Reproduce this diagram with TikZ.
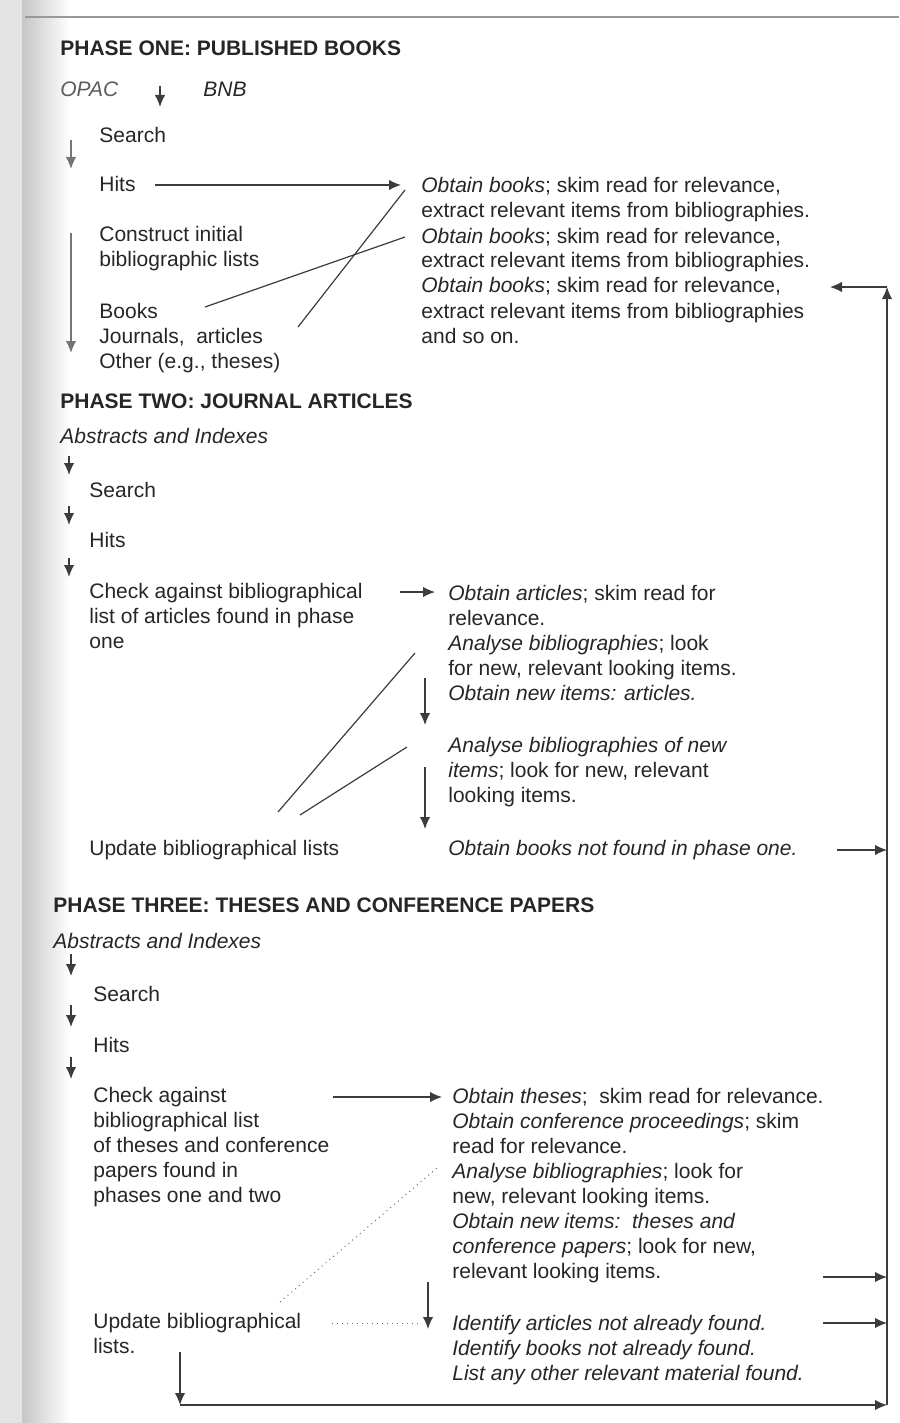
\documentclass[tikz,border=0pt]{standalone}
\usepackage{fontspec}
\setmainfont{Liberation Sans}
\usetikzlibrary{arrows.meta}
\definecolor{ink}{HTML}{262626}
\definecolor{rulec}{HTML}{3C3C3C}
\tikzset{
  txt/.style={anchor=base west, inner sep=0pt, text=ink, font=\fontsize{10.5}{12.5}\selectfont},
  hd/.style={txt, font=\fontsize{10.5}{12.5}\selectfont\bfseries},
  itx/.style={txt, font=\fontsize{10.5}{12.5}\selectfont\itshape},
  conn/.style={draw=rulec, line width=0.6pt},
  arr/.style={conn, -{Latex[length=6pt,width=5.2pt]}},
  dotl/.style={draw=rulec!75, line width=0.5pt, dotted},
}
\newcommand{\mlines}[1]{\vtop{\baselineskip=12.5pt\lineskiplimit=-20pt\lineskip=0pt #1}}
\begin{document}
\begin{tikzpicture}[x=0.5pt,y=-0.5pt]
\useasboundingbox (0,0) rectangle (899,1423);
% page scan edge and header rule
\fill[gray!22] (0,0) rectangle (22,1423);
\shade[left color=gray!45, right color=white] (22,0) rectangle (70,1423);
\draw[gray!80, line width=0.9pt] (25,17) -- (899,17);

% ---------------- PHASE ONE ----------------
\node[hd] (h1) at (60,56) {PHASE ONE: PUBLISHED BOOKS};
\node[itx, text=ink!75] (opac) at (60,97) {OPAC};
\node[itx] (bnb) at (203,97) {BNB};
\node[txt] (s1) at (99,143) {Search};
\node[txt] (hits1) at (99,192) {Hits};
\node[txt] (con1) at (99,242) {\mlines{\hbox{Construct initial}\hbox{bibliographic lists}}};
\node[txt] (bk1) at (99,318) {\mlines{\hbox{Books}\hbox{Journals,\ \ articles}\hbox{Other (e.g., theses)}}};
\node[txt] (ob1) at (421,193) {\mlines{%
  \hbox{\textit{Obtain books}; skim read for relevance,}%
  \hbox{extract relevant items from bibliographies.}%
  \hbox{\textit{Obtain books}; skim read for relevance,}%
  \hbox{extract relevant items from bibliographies.}%
  \hbox{\textit{Obtain books}; skim read for relevance,}%
  \hbox{extract relevant items from bibliographies}%
  \hbox{and so on.}}};

\coordinate (p1a) at (160,86);  \coordinate (p1b) at (160,107);
\coordinate (p1c) at (71,140);  \coordinate (p1d) at (71,169);
\coordinate (p1e) at (155,185); \coordinate (p1f) at (401,185);
\coordinate (p1g) at (71,233);  \coordinate (p1h) at (71,353);
\coordinate (p1i) at (205,307); \coordinate (p1j) at (405,237);
\coordinate (p1k) at (298,327); \coordinate (p1l) at (405,190);
\draw[arr] (p1a) -- (p1b);
\draw[arr, draw=rulec!70] (p1c) -- (p1d);
\draw[arr] (p1e) -- (p1f);
\draw[arr, draw=rulec!70] (p1g) -- (p1h);
\draw[conn] (p1i) -- (p1j);
\draw[conn] (p1k) -- (p1l);

% ---------------- PHASE TWO ----------------
\node[hd] (h2) at (60,408) {PHASE TWO: JOURNAL ARTICLES};
\node[itx] (abs2) at (60,443) {Abstracts and Indexes};
\node[txt] (s2) at (89,497) {Search};
\node[txt] (hits2) at (89,547) {Hits};
\node[txt] (chk2) at (89,598) {\mlines{%
  \hbox{Check against bibliographical}%
  \hbox{list of articles found in phase}%
  \hbox{one}}};
\node[txt] (ob2) at (448,600) {\mlines{%
  \hbox{\textit{Obtain articles}; skim read for}%
  \hbox{relevance.}%
  \hbox{\textit{Analyse bibliographies}; look}%
  \hbox{for new, relevant looking items.}%
  \hbox{\textit{Obtain new items: articles.}}}};
\node[txt] (an2) at (448,752) {\mlines{%
  \hbox{\textit{Analyse bibliographies of new}}%
  \hbox{\textit{items}; look for new, relevant}%
  \hbox{looking items.}}};
\node[itx] (obb2) at (448,855) {Obtain books not found in phase one.};
\node[txt] (upd2) at (89,855) {Update bibliographical lists};

\coordinate (p2a) at (69,456);  \coordinate (p2b) at (69,475);
\coordinate (p2c) at (69,506);  \coordinate (p2d) at (69,525);
\coordinate (p2e) at (69,558);  \coordinate (p2f) at (69,577);
\coordinate (p2g) at (400,592); \coordinate (p2h) at (435,592);
\coordinate (p2i) at (425,678); \coordinate (p2j) at (425,725);
\coordinate (p2k) at (425,767); \coordinate (p2l) at (425,829);
\coordinate (p2m) at (837,850); \coordinate (p2n) at (887,850);
\coordinate (p2o) at (278,812); \coordinate (p2p) at (415,653);
\coordinate (p2q) at (300,815); \coordinate (p2r) at (407,747);
\draw[arr] (p2a) -- (p2b);
\draw[arr] (p2c) -- (p2d);
\draw[arr] (p2e) -- (p2f);
\draw[arr] (p2g) -- (p2h);
\draw[arr] (p2i) -- (p2j);
\draw[arr] (p2k) -- (p2l);
\draw[arr] (p2m) -- (p2n);
\draw[conn] (p2o) -- (p2p);
\draw[conn] (p2q) -- (p2r);

% ---------------- PHASE THREE ----------------
\node[hd] (h3) at (53,912) {PHASE THREE: THESES AND CONFERENCE PAPERS};
\node[itx] (abs3) at (53,948) {Abstracts and Indexes};
\node[txt] (s3) at (93,1001) {Search};
\node[txt] (hits3) at (93,1052) {Hits};
\node[txt] (chk3) at (93,1102) {\mlines{%
  \hbox{Check against}%
  \hbox{bibliographical list}%
  \hbox{of theses and conference}%
  \hbox{papers found in}%
  \hbox{phases one and two}}};
\node[txt] (ob3) at (452,1103) {\mlines{%
  \hbox{\textit{Obtain theses};\ \ skim read for relevance.}%
  \hbox{\textit{Obtain conference proceedings}; skim}%
  \hbox{read for relevance.}%
  \hbox{\textit{Analyse bibliographies}; look for}%
  \hbox{new, relevant looking items.}%
  \hbox{\textit{Obtain new items:\ \ theses and}}%
  \hbox{\textit{conference papers}; look for new,}%
  \hbox{relevant looking items.}}};
\node[itx] (id3) at (452,1330) {\mlines{%
  \hbox{Identify articles not already found.}%
  \hbox{Identify books not already found.}%
  \hbox{List any other relevant material found.}}};
\node[txt] (upd3) at (93,1328) {\mlines{\hbox{Update bibliographical}\hbox{lists.}}};

\coordinate (p3a) at (71,954);   \coordinate (p3b) at (71,976);
\coordinate (p3c) at (71,1005);  \coordinate (p3d) at (71,1027);
\coordinate (p3e) at (71,1057);  \coordinate (p3f) at (71,1079);
\coordinate (p3g) at (333,1097); \coordinate (p3h) at (442,1097);
\coordinate (p3i) at (280,1302); \coordinate (p3j) at (437,1168);
\coordinate (p3k) at (332,1323); \coordinate (p3l) at (420,1323);
\coordinate (p3m) at (428,1282); \coordinate (p3n) at (428,1329);
\coordinate (p3o) at (823,1277); \coordinate (p3p) at (887,1277);
\coordinate (p3q) at (823,1323); \coordinate (p3r) at (887,1323);
\coordinate (p3s) at (180,1352); \coordinate (p3t) at (180,1405);
\coordinate (p3u) at (887,1405);
\coordinate (top) at (887,287);  \coordinate (topl) at (830,287);
\draw[arr] (p3a) -- (p3b);
\draw[arr] (p3c) -- (p3d);
\draw[arr] (p3e) -- (p3f);
\draw[arr] (p3g) -- (p3h);
\draw[dotl] (p3i) -- (p3j);
\draw[dotl] (p3k) -- (p3l);
\draw[arr] (p3m) -- (p3n);
\draw[arr] (p3o) -- (p3p);
\draw[arr] (p3q) -- (p3r);
\draw[arr] (p3s) -- (p3t);
\draw[arr] (p3t) -- (p3u);
\draw[arr] (p3u) -- (top);
\draw[arr] (top) -- (topl);
\end{tikzpicture}
\end{document}
